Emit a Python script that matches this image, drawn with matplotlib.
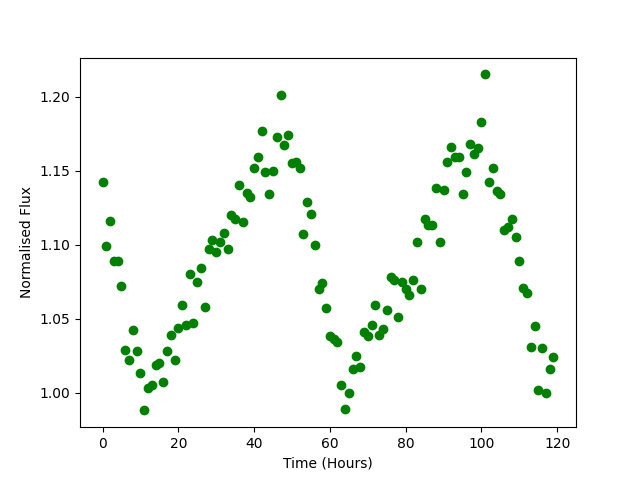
import numpy as np
import matplotlib

matplotlib.use("Agg")
import matplotlib.pyplot as plt

# hourly samples, 0..119
time_hours = np.arange(120)
flux = [
    1.142, 1.099, 1.116, 1.089, 1.089, 1.072, 1.029, 1.022, 1.042, 1.028,
    1.0135, 0.988, 1.003, 1.005, 1.019, 1.020, 1.007, 1.028, 1.039, 1.022,
    1.044, 1.059, 1.046, 1.080, 1.047, 1.075, 1.084, 1.058, 1.097, 1.103,
    1.095, 1.102, 1.108, 1.097, 1.120, 1.117, 1.140, 1.115, 1.135, 1.132,
    1.152, 1.159, 1.177, 1.149, 1.134, 1.150, 1.173, 1.201, 1.167, 1.174,
    1.155, 1.156, 1.152, 1.107, 1.129, 1.121, 1.100, 1.070, 1.074, 1.057,
    1.038, 1.036, 1.034, 1.005, 0.989, 1.000, 1.016, 1.025, 1.017, 1.041,
    1.038, 1.046, 1.059, 1.039, 1.043, 1.056, 1.078, 1.076, 1.051, 1.075,
    1.070, 1.066, 1.076, 1.102, 1.070, 1.117, 1.113, 1.113, 1.138, 1.102,
    1.137, 1.156, 1.166, 1.159, 1.159, 1.134, 1.149, 1.168, 1.161, 1.165,
    1.183, 1.215, 1.142, 1.152, 1.136, 1.134, 1.110, 1.112, 1.117, 1.105,
    1.089, 1.071, 1.067, 1.031, 1.045, 1.002, 1.030, 1.000, 1.016, 1.024,
]

fig, ax = plt.subplots(figsize=(6.4, 4.8), dpi=100)
ax.plot(time_hours, flux, "go")
ax.set_xlabel("Time (Hours)")
ax.set_ylabel("Normalised Flux")
fig.savefig("out.png")
